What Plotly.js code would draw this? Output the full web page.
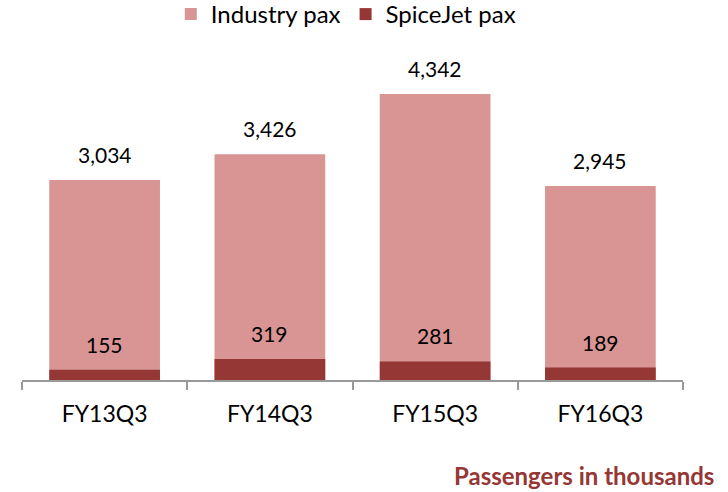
<!DOCTYPE html>
<html>
<head>
<meta charset="utf-8">
<script src="https://cdn.plot.ly/plotly-3.0.1.min.js"></script>
<style>html,body{margin:0;padding:0;background:#fff;}#chart{width:728px;height:492px;}</style>
</head>
<body>
<div id="chart"></div>
<script>
const categories = ["FY13Q3", "FY14Q3", "FY15Q3", "FY16Q3"];
const industryPax = [3034, 3426, 4342, 2945];
const spicejetPax = [155, 319, 281, 189];

const fmt = v => v.toLocaleString("en-US");
const font = "Lato, 'Open Sans', sans-serif";

const traces = [
  {type: "bar", name: "Industry pax", x: categories, y: industryPax,
   marker: {color: "#D99594"}, width: 0.67, hoverinfo: "skip"},
  {type: "bar", name: "SpiceJet pax", x: categories, y: spicejetPax,
   marker: {color: "#953735"}, width: 0.67, hoverinfo: "skip"}
];

const annotations = [];
categories.forEach((c, i) => {
  annotations.push({x: c, y: industryPax[i], text: fmt(industryPax[i]), showarrow: false,
    yanchor: "bottom", yshift: 11, font: {family: font, size: 21, color: "#000"}});
  annotations.push({x: c, y: spicejetPax[i], text: fmt(spicejetPax[i]), showarrow: false,
    yanchor: "bottom", yshift: 11, font: {family: font, size: 21, color: "#000"}});
});
annotations.push({xref: "paper", yref: "paper", x: 1.05, y: -0.282, xanchor: "right", yanchor: "middle",
  text: "<b>Passengers in thousands</b>", showarrow: false,
  font: {family: font, size: 24, color: "#953735"}});

const layout = {
  width: 728, height: 492,
  margin: {l: 22, r: 45, t: 40, b: 112, autoexpand: false},
  barmode: "overlay",
  paper_bgcolor: "#fff", plot_bgcolor: "#fff",
  font: {family: font, size: 23, color: "#000"},
  showlegend: true,
  legend: {orientation: "h", x: 0.475, xanchor: "center", xref: "container",
    y: 1.075, yanchor: "middle", yref: "paper",
    font: {family: font, size: 24}, traceorder: "normal", itemwidth: 30},
  xaxis: {showline: true, linecolor: "#999", linewidth: 2, ticks: "outside", tickson: "boundaries",
    ticklen: 8, tickcolor: "#999", tickwidth: 2, showgrid: false, zeroline: false,
    ticklabelstandoff: 12,
    tickfont: {family: font, size: 23, color: "#000"}},
  yaxis: {range: [0, 5160], visible: false, showgrid: false, zeroline: false},
  annotations: annotations
};

Plotly.newPlot("chart", traces, layout, {displayModeBar: false, staticPlot: true});
</script>
</body>
</html>
